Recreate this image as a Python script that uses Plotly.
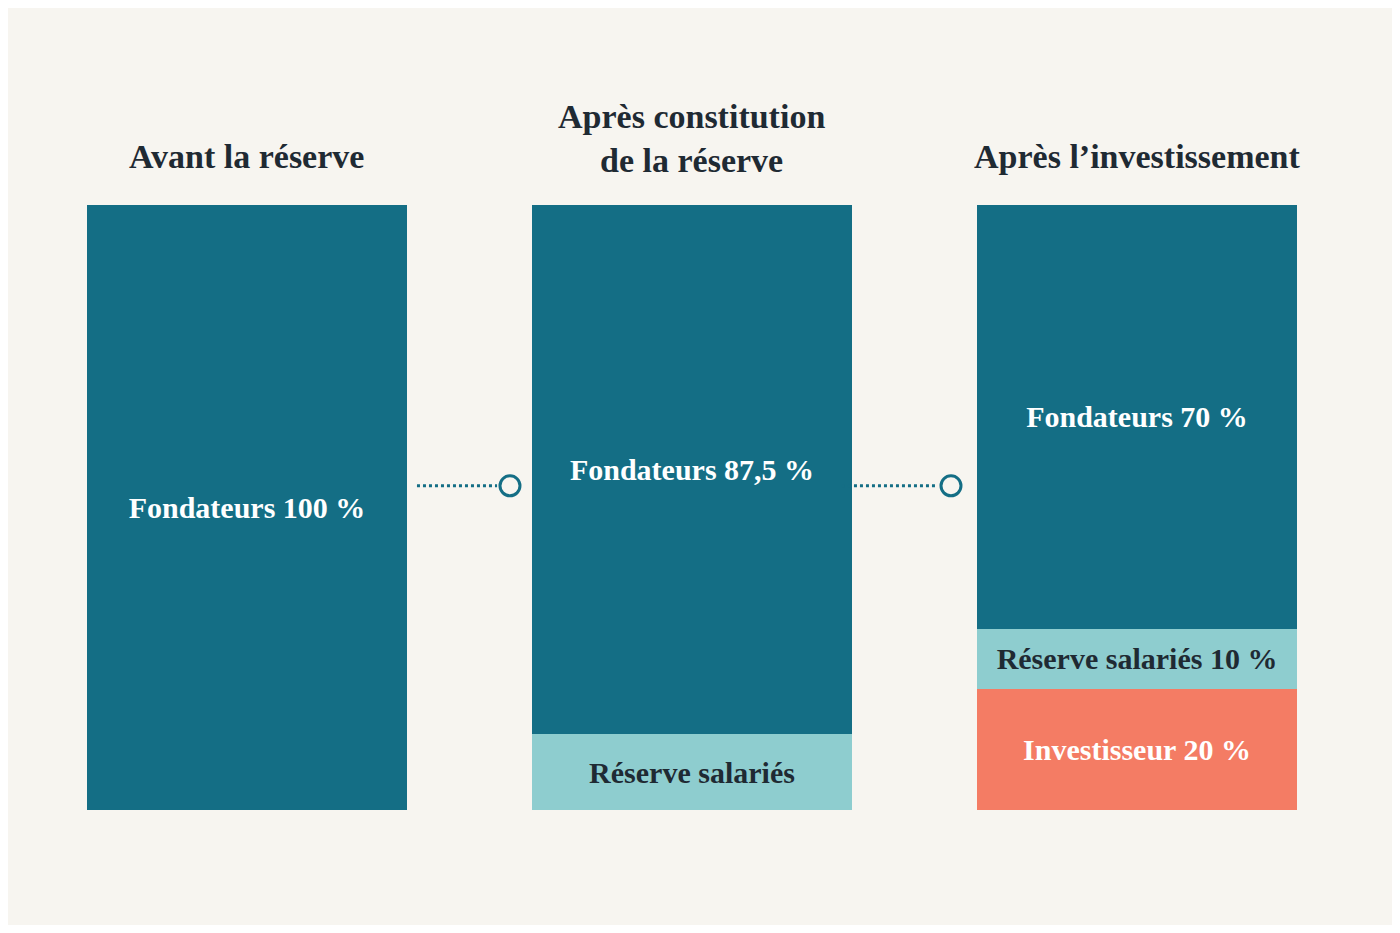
import plotly.graph_objects as go

stages = ["<b>Avant la réserve</b>", "<b>Après constitution<br>de la réserve</b>", "<b>Après l’investissement</b>"]
founders = [100, 87.5, 70]
reserve = [0, 12.5, 10]
investor = [0, 0, 20]
founder_labels = ["<b>Fondateurs 100 %</b>", "<b>Fondateurs 87,5 %</b>", "<b>Fondateurs 70 %</b>"]
reserve_labels = ["", "<b>Réserve salariés</b>", "<b>Réserve salariés 10 %</b>"]
investor_labels = ["", "", "<b>Investisseur 20 %</b>"]

TEAL = "#146e85"; LIGHT = "#8ecdcf"; CORAL = "#f47c64"; BG = "#f7f5f0"
FONT = "Liberation Serif"
x = [0, 1, 2]

fig = go.Figure()
fig.add_bar(x=x, y=investor, marker_color=CORAL, text=investor_labels, width=0.72,
            textposition="inside", insidetextanchor="middle", constraintext="none",
            textfont=dict(family=FONT, size=30, color="white"), marker_line_width=0, textangle=0)
fig.add_bar(x=x, y=reserve, marker_color=LIGHT, text=reserve_labels, width=0.72,
            textposition="inside", insidetextanchor="middle", constraintext="none",
            textfont=dict(family=FONT, size=30, color="#1f2a33"), marker_line_width=0, textangle=0)
fig.add_bar(x=x, y=founders, marker_color=TEAL, text=founder_labels, width=0.72,
            textposition="inside", insidetextanchor="middle", constraintext="none",
            textfont=dict(family=FONT, size=30, color="white"), marker_line_width=0, textangle=0)

for x0, x1, xc in [(0.382, 0.562, 0.591), (1.337, 1.546, 1.582)]:
    fig.add_scatter(x=[x0, x1], y=[53.6, 53.6], mode="lines",
                    line=dict(color=TEAL, width=3, dash="dot"), showlegend=False, hoverinfo="skip")
    fig.add_scatter(x=[xc], y=[53.6], mode="markers", showlegend=False, hoverinfo="skip",
                    marker=dict(size=20, color=BG, line=dict(color=TEAL, width=3)))

title_y = [108, 111, 108]
for xi, t, ty in zip(x, stages, title_y):
    fig.add_annotation(x=xi, y=ty, text=t, showarrow=False, yanchor="middle",
                       font=dict(family=FONT, size=34, color="#1f2a33"))

fig.update_layout(barmode="stack", width=1384, height=917, showlegend=False,
                  paper_bgcolor=BG, plot_bgcolor=BG, margin=dict(l=0, r=0, t=0, b=0),
                  xaxis=dict(range=[-0.537, 2.573], visible=False),
                  yaxis=dict(range=[-19.0, 132.6], visible=False))
fig.write_html("out.html")
